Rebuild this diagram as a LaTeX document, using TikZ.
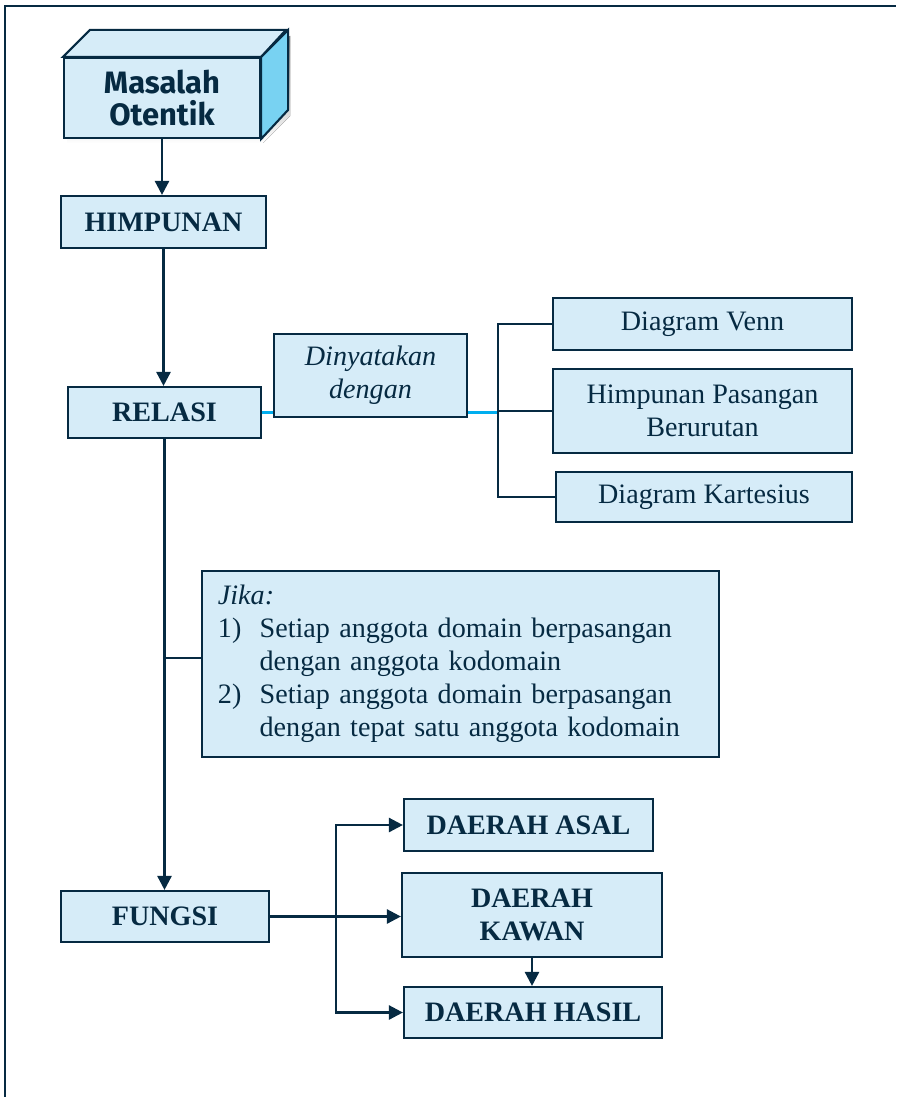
\documentclass[tikz,border=0pt]{standalone}
\usepackage{fontspec}
\setmainfont{Liberation Serif}
\newfontfamily\masfont{Fira Sans}
\usetikzlibrary{arrows.meta}
\definecolor{navy}{HTML}{062A42}
\definecolor{boxfill}{HTML}{D6ECF8}
\definecolor{sideblue}{HTML}{78D2F2}
\definecolor{shade}{HTML}{8DB3CC}
\definecolor{linkcyan}{HTML}{00AEEF}
\begin{document}
\begin{tikzpicture}[x=0.025cm,y=-0.025cm,
  box/.style={draw=navy,line width=1.5pt,fill=boxfill,text=navy,inner sep=0pt,align=center,font=\fontsize{20}{23.5}\selectfont},
  head/.style={box,font=\fontsize{20}{23.5}\selectfont\bfseries},
  arr/.style={draw=navy,line width=1.8pt,-{Triangle[length=10pt,width=10pt]}},
  link/.style={draw=navy,line width=1.8pt},
  cyanlink/.style={draw=linkcyan,line width=1.8pt}]
\useasboundingbox (0,0) rectangle (896,1097);
\draw[navy,line width=1.5pt] (5,1097) -- (5,6) -- (896,6);
\fill[shade] (67,63) rectangle (263,143);
\fill[shade] (263,63) -- (290,36) -- (290,116) -- (263,143) -- cycle;
\node[box,minimum width=4.9cm,minimum height=2cm,font=\masfont\bfseries\fontsize{22}{23}\selectfont] (masalah) at (162,98) {Masalah\\Otentik};
\draw[navy,line width=1.5pt,fill=boxfill] (masalah.north west) -- ++(27,-27) -- ++(196,0) -- (masalah.north east) -- cycle;
\draw[navy,line width=1.5pt,fill=sideblue] (masalah.north east) -- ++(27,-27) -- ++(0,80) -- (masalah.south east) -- cycle;
\node[head,minimum width=5.125cm,minimum height=1.3cm] (himpunan) at (163.5,222) {HIMPUNAN};
\node[head,minimum width=4.825cm,minimum height=1.275cm] (relasi) at (164.5,412.5) {RELASI};
\node[box,minimum width=4.825cm,minimum height=2.075cm,font=\fontsize{20}{23.5}\selectfont\itshape] (dinyatakan) at (370.5,375.5) {Dinyatakan\\dengan};
\node[box,minimum width=7.475cm,minimum height=1.3cm] (venn) at (702.5,324) {Diagram Venn};
\node[box,minimum width=7.475cm,minimum height=2.1cm] (pasangan) at (702.5,411) {Himpunan Pasangan\\Berurutan};
\node[box,minimum width=7.4cm,minimum height=1.25cm] (kartesius) at (704,497) {Diagram Kartesius};
\node[box,text width=12.125cm,inner xsep=0.4cm,minimum height=4.65cm,align=left] (jika) at (460.5,664) {%
\begin{tabular}{@{}l@{\hspace{13pt}}l@{}}
\multicolumn{2}{@{}l}{\textit{Jika:}}\\
1) & Setiap anggota domain berpasangan\\
   & dengan anggota kodomain\\
2) & Setiap anggota domain berpasangan\\
   & dengan tepat satu anggota kodomain
\end{tabular}};
\node[head,minimum width=5.2cm,minimum height=1.275cm] (fungsi) at (165,916.5) {FUNGSI};
\node[head,minimum width=6.225cm,minimum height=1.3cm] (asal) at (528.5,825) {DAERAH ASAL};
\node[head,minimum width=6.5cm,minimum height=2.1cm] (kawan) at (532,915) {DAERAH\\KAWAN};
\node[head,minimum width=6.45cm,minimum height=1.275cm] (hasil) at (533,1012.5) {DAERAH HASIL};
\coordinate (brk) at (498,0);
\coordinate (fork) at (336,0);
\draw[arr] (masalah.south) -- (masalah.south |- himpunan.north);
\draw[arr] (himpunan.south) -- (himpunan.south |- relasi.north);
\draw[cyanlink] (relasi.east) -- (relasi.east -| dinyatakan.west);
\draw[cyanlink] (relasi.east -| dinyatakan.east) -- (relasi.east -| brk);
\draw[link] (venn.west) -- (venn.west -| brk) -- (kartesius.west -| brk) -- (kartesius.west);
\draw[link] (pasangan.west) -- (pasangan.west -| brk);
\draw[arr] (relasi.south) -- (relasi.south |- fungsi.north);
\draw[link] ([yshift=0.15cm]jika.west) -- ([yshift=0.15cm]jika.west -| relasi.south);
\draw[arr] (fungsi.east) -- (fungsi.east -| kawan.west);
\draw[arr] (fungsi.east -| fork) |- (asal.west);
\draw[arr] (fungsi.east -| fork) |- (hasil.west);
\draw[arr] (kawan.south) -- (kawan.south |- hasil.north);
\end{tikzpicture}
\end{document}
